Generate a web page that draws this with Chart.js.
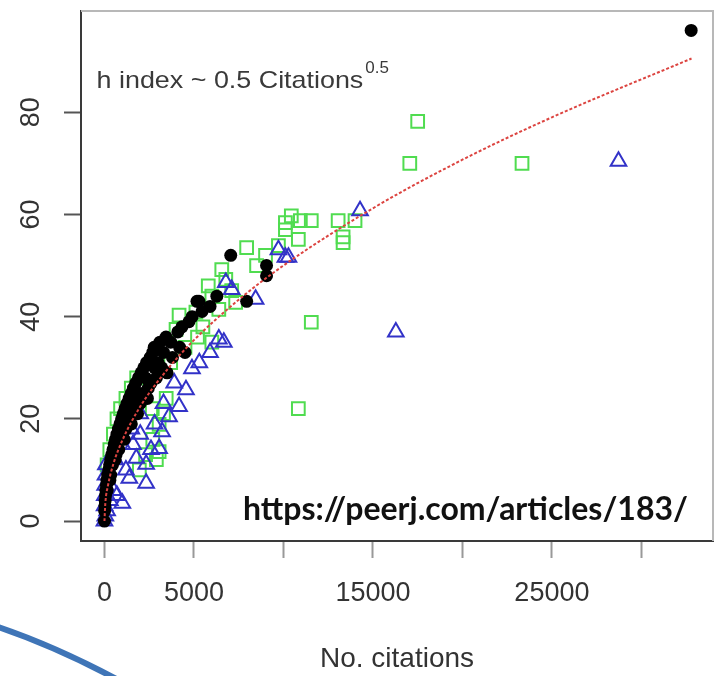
<!DOCTYPE html>
<html>
<head>
<meta charset="utf-8">
<script src="https://cdn.jsdelivr.net/npm/chart.js@4"></script>
<style>
  html, body { margin: 0; padding: 0; background: #fff; }
  #wrap { width: 724px; height: 676px; }
</style>
</head>
<body>
<div id="wrap"><canvas id="hChart" width="724" height="676"></canvas></div>
<script>
// h index against number of citations
const blackX = [0, 10, 25, 40, 60, 80, 110, 140, 180, 240, 290, 350, 410, 480, 550, 620, 700, 780, 870, 960,
  1050, 1150, 1260, 1380, 1500, 1620, 1750, 1900, 2050, 2200, 2350, 2550, 2700, 2780, 3100, 3440, 3700, 4100,
  4330, 4900, 5170, 5450, 5900, 6280, 7056, 7945, 9056, 9056, 350, 800, 1500, 2400, 3500, 4500,
  150, 250, 300, 450, 600, 650, 1000, 1100, 1200, 1350, 1700, 1850, 2000, 2200, 2450, 2600, 2900, 3000,
  3200, 3800, 4200, 4720, 5280, 1300, 1600, 1900, 2300, 2800, 3300, 32780];
const blackY = [0, 2, 3, 4, 5, 6, 7, 8, 9, 10, 11, 12, 13, 14, 15, 16, 17, 18, 19, 20,
  21, 22, 23, 24, 25, 26, 27, 28, 29, 30, 31, 32, 33, 34, 35, 36, 35, 37,
  38, 40, 43, 41, 42, 44, 52, 43, 50, 48, 9, 14, 19, 24, 29, 33,
  6, 8, 8, 11, 12, 13, 17, 16, 18, 20, 22, 21, 23, 25, 26, 27, 28, 31,
  30, 32, 34, 39, 43, 21, 24, 25, 28, 30, 33, 96];

const greenX = [150, 300, 500, 700, 900, 1200, 1500, 1800, 1950, 2300, 2700, 3055, 3055, 3450, 2670, 3300, 2900,
  3700, 4000, 4170, 4500, 5110, 5200, 5500, 5800, 6000, 6000, 6390, 6555, 6780, 7110, 7330, 7945, 8500, 9000,
  9720, 10110, 10440, 10110, 10945, 11556, 10833, 13056, 14000, 13333, 13333, 11556, 10833, 17060, 17500, 23330];
const greenY = [11, 14, 17, 20, 22, 24, 26, 28, 10, 13, 16, 13.6, 18.9, 24, 22, 21, 12,
  31, 37.5, 40.3, 34, 40.9, 36, 38, 46, 35, 44, 41.4, 49.2, 47.3, 45.1, 42.8, 53.5, 50, 52,
  53.9, 58.4, 59.7, 57, 58.8, 58.8, 55.1, 58.8, 58.8, 54.5, 55.6, 38.9, 22, 70, 78.2, 70];

const blueX = [0, 10, 20, 40, 60, 80, 50, 150, 300, 500, 700, 1000, 1390, 1780, 2330, 2330, 1200, 1600, 2000,
  2600, 3055, 3220, 3610, 2800, 3300, 4170, 4555, 3900, 4890, 5300, 6390, 6670, 5900, 6780, 7110, 8445, 9720,
  10110, 10280, 600, 1000, 1500, 2000, 14280, 16280, 28720];
const blueY = [0, 3, 5, 7, 9, 11, 1, 2, 4, 6, 5, 3.5, 8.4, 12.3, 7.4, 11.1, 10, 15, 17,
  14, 14.2, 17.5, 20.4, 19, 23, 22.4, 25.7, 27, 29.8, 31, 35.6, 35, 33, 46.7, 45.3, 43.4, 53.1,
  51.6, 51.6, 12, 15, 18, 21, 60.7, 37, 70.4];

// fitted curve, h = 0.5 * Citations^0.5
const fitX = [0, 50, 200, 500, 1000, 2000, 3500, 5000, 7500, 10000, 15000, 20000, 25000, 32800];
const fitY = [0, 3.5, 7, 11.2, 15.8, 22.4, 29.6, 35.4, 43.3, 50, 61.2, 70.7, 79, 90.5];

const xTicks = [0, 5000, 10000, 15000, 20000, 25000, 30000];
const xLabels = ['0', '5000', '', '15000', '', '25000', ''];
const yTicks = [0, 20, 40, 60, 80];

const formulaText = 'h index ~ 0.5 Citations';
const formulaPower = '0.5';
const formulaAt = { x: -440, y: 84.8 };
const sourceText = 'https://peerj.com/articles/183/';

function toPoints(xs, ys) {
    return xs.map((x, i) => ({ x: x, y: ys[i] }));
}

const labelFont = { family: '"Liberation Sans", Arial, sans-serif', size: 27 };

// frame top/right, formula text, source link and slide arc
const decorations = {
    id: 'decorations',
    afterDraw(chart) {
        const ctx = chart.ctx;
        const a = chart.chartArea;
        const xs = chart.scales.x, ys = chart.scales.y;
        ctx.save();

        ctx.strokeStyle = '#b8b8b8';
        ctx.lineWidth = 2;
        ctx.beginPath();
        ctx.moveTo(a.left, a.top);
        ctx.lineTo(a.right, a.top);
        ctx.lineTo(a.right, a.bottom);
        ctx.stroke();

        const fx = xs.getPixelForValue(formulaAt.x);
        const fy = ys.getPixelForValue(formulaAt.y);
        ctx.fillStyle = '#3a3a3a';
        ctx.textBaseline = 'alphabetic';
        ctx.textAlign = 'left';
        ctx.font = '24px "Liberation Sans", Arial, sans-serif';
        const w = ctx.measureText(formulaText).width * 1.12;
        ctx.save();
        ctx.translate(fx, fy);
        ctx.scale(1.12, 1);
        ctx.fillText(formulaText, 0, 0);
        ctx.restore();
        ctx.font = '17px "Liberation Sans", Arial, sans-serif';
        ctx.fillText(formulaPower, fx + w + 2, fy - 15);

        ctx.fillStyle = '#111';
        ctx.font = 'bold 32px Lato, sans-serif';
        ctx.fillText(sourceText, 243, 520);

        ctx.strokeStyle = '#3f75b7';
        ctx.lineWidth = 6;
        ctx.beginPath();
        ctx.moveTo(-5, 626);
        ctx.quadraticCurveTo(55, 646, 122, 682);
        ctx.stroke();

        ctx.restore();
    }
};

new Chart(document.getElementById('hChart'), {
    type: 'scatter',
    data: {
        datasets: [
            {
                type: 'line',
                label: 'fit',
                data: toPoints(fitX, fitY),
                showLine: true,
                borderColor: '#dc4440',
                borderWidth: 2,
                borderDash: [3, 2],
                pointRadius: 0,
                cubicInterpolationMode: 'monotone',
                fill: false
            },
            {
                label: 'black',
                data: toPoints(blackX, blackY),
                pointStyle: 'circle',
                pointRadius: 6.5,
                backgroundColor: '#000',
                borderColor: '#000',
                borderWidth: 0
            },
            {
                label: 'blue',
                data: toPoints(blueX, blueY),
                pointStyle: 'triangle',
                pointRadius: 9,
                backgroundColor: 'rgba(0,0,0,0)',
                borderColor: '#3232c8',
                borderWidth: 2
            },
            {
                label: 'green',
                data: toPoints(greenX, greenY),
                pointStyle: 'rect',
                pointRadius: 9,
                backgroundColor: 'rgba(0,0,0,0)',
                borderColor: '#50dc50',
                borderWidth: 2
            }
        ]
    },
    options: {
        responsive: false,
        animation: false,
        devicePixelRatio: 1,
        layout: { padding: { top: 8, right: 8, left: 0, bottom: 0 } },
        plugins: { legend: { display: false }, tooltip: { enabled: false } },
        scales: {
            x: {
                type: 'linear',
                min: -1310,
                max: 34000,
                afterBuildTicks: s => { s.ticks = xTicks.map(v => ({ value: v })); },
                afterFit: s => { s.height = 135; s.paddingLeft = 0; s.paddingRight = 0; },
                grid: { drawOnChartArea: false, tickLength: 17, tickColor: '#999', tickWidth: 2 },
                border: { color: '#3a3a3a', width: 2 },
                ticks: {
                    callback: (v, i) => xLabels[i],
                    autoSkip: false,
                    maxRotation: 0,
                    padding: 19,
                    font: labelFont,
                    color: '#333'
                },
                title: {
                    display: true,
                    text: 'No. citations',
                    font: { family: '"Liberation Sans", Arial, sans-serif', size: 28 },
                    color: '#333',
                    padding: { top: 0, bottom: 0 }
                }
            },
            y: {
                min: -3.9,
                max: 99.8,
                afterBuildTicks: s => { s.ticks = yTicks.map(v => ({ value: v })); },
                afterFit: s => { s.width = 81; s.paddingTop = 0; s.paddingBottom = 0; },
                grid: { drawOnChartArea: false, tickLength: 17, tickColor: '#555', tickWidth: 2 },
                border: { color: '#3a3a3a', width: 2 },
                ticks: {
                    minRotation: 90,
                    maxRotation: 90,
                    crossAlign: 'center',
                    padding: 17,
                    font: labelFont,
                    color: '#333'
                }
            }
        }
    },
    plugins: [decorations]
});
</script>
</body>
</html>
